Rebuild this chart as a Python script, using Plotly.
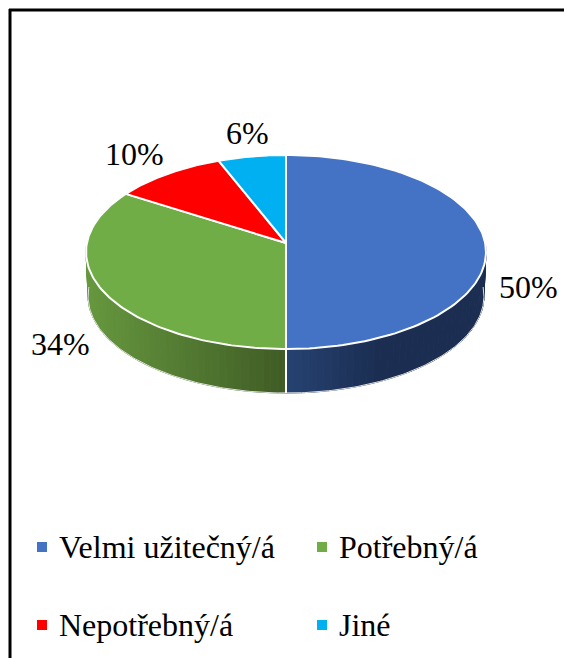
import numpy as np
import plotly.graph_objects as go

categories = ["Velmi užitečný/á", "Potřebný/á", "Nepotřebný/á", "Jiné"]
values = [50, 34, 10, 6]
labels = ["50%", "34%", "10%", "6%"]
colors = ["#4472C4", "#70AD47", "#FF0000", "#00B0F0"]

W, H = 564, 658
CX, CY = 286, 243
A, B, K = 199.1, 96.2, 0.0928
DEPTH = 44
WALL_SCALE = 0.99
FONT = "Liberation Serif"


def top(t):
    t = np.asarray(t, float)
    d = 1 + K * np.cos(t)
    return CX + A * np.sin(t) / d, CY - B * np.cos(t) / d


def low(t):
    x, y = top(t)
    return CX + (x - CX) * WALL_SCALE, y + DEPTH


def lerp(c0, c1, f):
    return "rgb(%d,%d,%d)" % tuple(round(a + (b - a) * f) for a, b in zip(c0, c1))


def wall_color(i, x):
    if i == 0:
        return lerp((0x26, 0x42, 0x72), (0x1B, 0x2E, 0x52), min(1, (x - CX) / 90))
    return lerp((0x3F, 0x5C, 0x25), (0x66, 0x98, 0x3E), min(1, (CX - x) / 200))


fig = go.Figure()
fractions = np.cumsum([0] + values) / sum(values)
base = dict(mode="lines", hoverinfo="skip", showlegend=False)
T_LEFT, T_RIGHT = 3 * np.pi / 2, np.pi / 2

# side walls, drawn as thin strips to build the horizontal shading
for i in (0, 1):
    a0 = 2 * np.pi * fractions[i]
    a1 = 2 * np.pi * fractions[i + 1]
    a0c, a1c = max(a0, T_RIGHT), min(a1, T_LEFT)
    edges = np.linspace(a0c, a1c, 46)
    for e0, e1 in zip(edges[:-1], edges[1:]):
        ts = np.array([e0, e1])
        x0, y0 = top(ts)
        x1, y1 = low(ts)
        xs = [x0[0], x0[1], x1[1], x1[0], x0[0]]
        ys = [y0[0], y0[1], y1[1], y1[0], y0[0]]
        c = wall_color(i, float(np.mean(xs)))
        fig.add_trace(go.Scatter(x=xs, y=ys, fill="toself", fillcolor=c,
                                 line=dict(color=c, width=1), **base))

# wall outline
tt = np.linspace(T_RIGHT, T_LEFT, 200)
xb, yb = low(tt)
fig.add_trace(go.Scatter(x=list(xb), y=list(yb),
                         line=dict(color="#E2E2E2", width=1), **base))
# white divider on the wall where slices meet
x0, y0 = top(np.pi)
x1, y1 = low(np.pi)
fig.add_trace(go.Scatter(x=[x0, x1], y=[y0, y1], line=dict(color="white", width=2), **base))

# top face
for i in range(len(values)):
    t = np.linspace(2 * np.pi * fractions[i], 2 * np.pi * fractions[i + 1], 120)
    x, y = top(t)
    fig.add_trace(go.Scatter(x=[CX] + list(x) + [CX], y=[CY] + list(y) + [CY],
                             fill="toself", fillcolor=colors[i],
                             line=dict(color="white", width=2), **base))

# legend swatches and entries
legend_x = [37, 317, 37, 317]
legend_y = [548, 548, 626, 626]
legend_size = 10
for cat, col, lx, ly in zip(categories, colors, legend_x, legend_y):
    fig.add_trace(go.Scatter(x=[lx + 5], y=[ly - 1], mode="markers", hoverinfo="skip", showlegend=False,
                             marker=dict(symbol="square", size=legend_size, color=col, line=dict(width=0))))
    fig.add_annotation(x=lx + 19.5, y=ly - 1, text=cat, showarrow=False, xanchor="left", yanchor="middle",
                       font=dict(family=FONT, size=32, color="black"))

# data labels
label_x = [528, 60, 134, 247]
label_y = [287, 344, 154, 133]
for txt, lx, ly in zip(labels, label_x, label_y):
    fig.add_annotation(x=lx, y=ly, text=txt, showarrow=False, xanchor="center", yanchor="middle",
                       font=dict(family=FONT, size=32, color="black"))

# frame
fig.add_shape(type="line", x0=10, x1=10, y0=9, y1=H, line=dict(color="black", width=3))
fig.add_shape(type="line", x0=9, x1=W, y0=10, y1=10, line=dict(color="black", width=3))

fig.update_layout(
    width=W, height=H, margin=dict(l=0, r=0, t=0, b=0),
    paper_bgcolor="white", plot_bgcolor="white", showlegend=False,
    xaxis=dict(range=[0, W], visible=False, fixedrange=True),
    yaxis=dict(range=[H, 0], visible=False, fixedrange=True),
)
fig.write_html("out.html", config={"displayModeBar": False},
               post_script="document.body.style.margin='0';document.documentElement.style.overflow='hidden';")
